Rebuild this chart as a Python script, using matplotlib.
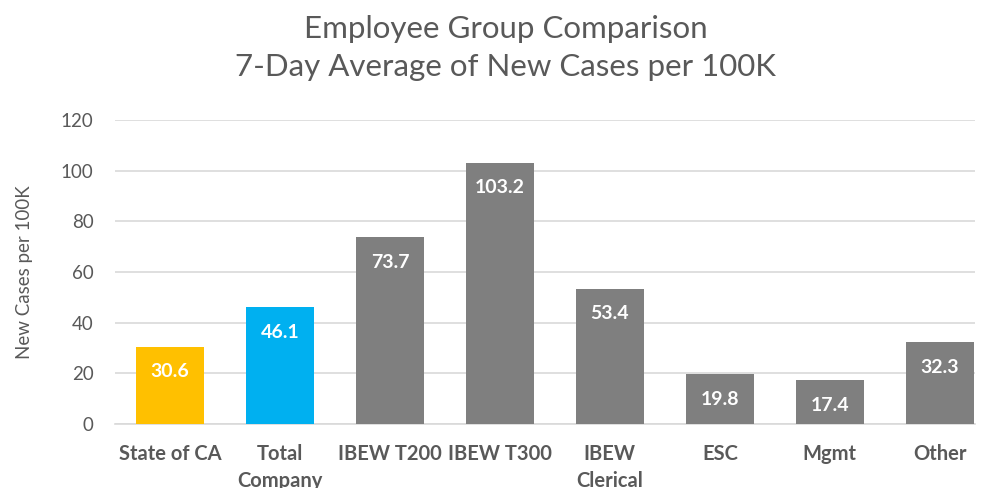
import matplotlib.pyplot as plt
import numpy as np

plt.rcParams["font.family"] = ["Lato", "DejaVu Sans"]

categories = ["State of CA", "Total\nCompany", "IBEW T200", "IBEW T300",
              "IBEW\nClerical", "ESC", "Mgmt", "Other"]
values = [30.6, 46.1, 73.7, 103.2, 53.4, 19.8, 17.4, 32.3]
bar_colors = ["#FFC000", "#00B0F0"] + ["#7F7F7F"] * 6

fig = plt.figure(figsize=(9.87, 4.88), dpi=100)
ax = fig.add_axes([0.1165, 0.131, 0.8713, 0.623])

x = np.arange(len(categories))
bars = ax.bar(x, values, width=0.62, color=bar_colors, zorder=3)

for b, v in zip(bars, values):
    ax.annotate(f"{v:.1f}", xy=(b.get_x() + b.get_width() / 2, v),
                xytext=(0, -12), textcoords="offset points",
                ha="center", va="top", color="white",
                fontsize=14, fontweight="bold", zorder=4)

ax.set_xlim(-0.5, 7.32)
ax.set_ylim(0, 120)
ax.set_yticks(range(0, 121, 20))
ax.set_xticks(x, categories)

ax.grid(axis="y", color="#D9D9D9", linewidth=1.2, zorder=0)
for s in ["top", "right", "left"]:
    ax.spines[s].set_visible(False)
ax.spines["bottom"].set_color("#D9D9D9")
ax.spines["bottom"].set_linewidth(1.2)
ax.spines["bottom"].set_zorder(0)

ax.tick_params(axis="y", length=0, pad=15.5, labelsize=13.5, labelcolor="#595959")
ax.tick_params(axis="x", length=0, pad=14.5, labelsize=14.5, labelcolor="#595959")
for lbl in ax.get_xticklabels():
    lbl.set_fontweight("bold")
    lbl.set_linespacing(1.4)

ax.set_ylabel("New Cases per 100K", fontsize=13.5, color="#595959", labelpad=20)

fig.text(0.512, 0.97, "Employee Group Comparison\n7-Day Average of New Cases per 100K",
         ha="center", va="top", fontsize=22.5, color="#595959", linespacing=1.45)

fig.savefig("out.png", dpi=100)
